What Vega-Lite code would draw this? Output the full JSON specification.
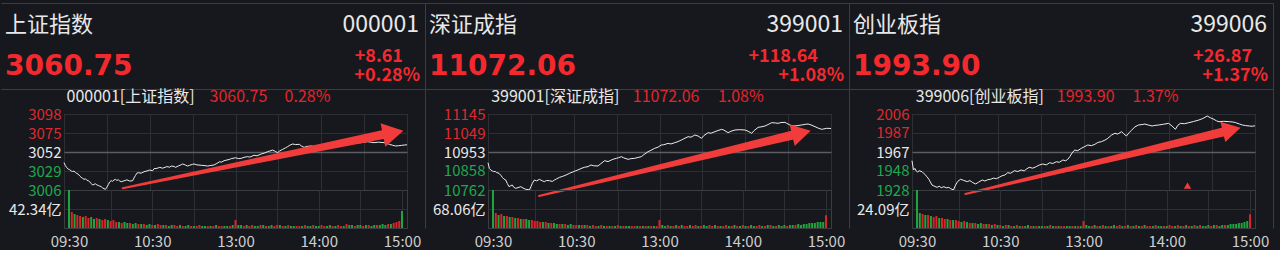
{
"$schema": "https://vega.github.io/schema/vega-lite/v6.json",
"background": "#16181d",
"padding": {"left": 0, "top": 3, "right": 0, "bottom": 0},
"spacing": -64,
"datasets": {
"h1": [{"role":"name","side":"L","line":"top","txt":"上证指数"},{"role":"code","side":"R","line":"top","txt":"000001"},{"role":"value","side":"L","line":"bottom","txt":"3060.75"},{"role":"chg","side":"R","line":"bottom","txt":"+8.61"},{"role":"pct","side":"R","line":"bottom","txt":"+0.28%"}],
"h2": [{"role":"name","side":"L","line":"top","txt":"深证成指"},{"role":"code","side":"R","line":"top","txt":"399001"},{"role":"value","side":"L","line":"bottom","txt":"11072.06"},{"role":"chg","side":"R","line":"bottom","txt":"+118.64"},{"role":"pct","side":"R","line":"bottom","txt":"+1.08%"}],
"h3": [{"role":"name","side":"L","line":"top","txt":"创业板指"},{"role":"code","side":"R","line":"top","txt":"399006"},{"role":"value","side":"L","line":"bottom","txt":"1993.90"},{"role":"chg","side":"R","line":"bottom","txt":"+26.87"},{"role":"pct","side":"R","line":"bottom","txt":"+1.37%"}],
"a1": [{"part":"shaft","t":41,"p":3008},{"part":"shaft","t":223,"p":3073},{"part":"head","t":230.3,"p":3075.1}],
"a2": [{"part":"shaft","t":35.7,"p":10731.7},{"part":"shaft","t":213,"p":11038},{"part":"head","t":219.3,"p":11049.3}],
"a3": [{"part":"shaft","t":37.4,"p":1923.9},{"part":"shaft","t":218,"p":1987.6},{"part":"head","t":223.7,"p":1989.8}],
"m3": [{"t":192.8,"p":1932.5}],
"p1": [{"t":0,"p":3039.1},{"t":1,"p":3035.5},{"t":2,"p":3033},{"t":3,"p":3031.2},{"t":4,"p":3030.6},{"t":5,"p":3029},{"t":6,"p":3028.4},{"t":7,"p":3028.9},{"t":8,"p":3027.2},{"t":9,"p":3026},{"t":10,"p":3025.1},{"t":11,"p":3023},{"t":12,"p":3021.3},{"t":13,"p":3020.2},{"t":14,"p":3018.9},{"t":15,"p":3019.6},{"t":16,"p":3017.8},{"t":17,"p":3017.3},{"t":18,"p":3016},{"t":19,"p":3013.9},{"t":20,"p":3012},{"t":21,"p":3012.8},{"t":22,"p":3013.5},{"t":23,"p":3012.2},{"t":24,"p":3011.4},{"t":25,"p":3010.8},{"t":26,"p":3010},{"t":27,"p":3008.6},{"t":28,"p":3007.6},{"t":29,"p":3006.8},{"t":30,"p":3009.4},{"t":31,"p":3012.5},{"t":32,"p":3015.8},{"t":33,"p":3017.3},{"t":34,"p":3016.5},{"t":35,"p":3018.2},{"t":36,"p":3018.9},{"t":37,"p":3017.6},{"t":38,"p":3018.4},{"t":39,"p":3016.9},{"t":40,"p":3016},{"t":42,"p":3017.1},{"t":44,"p":3018.3},{"t":46,"p":3016.8},{"t":48,"p":3017.2},{"t":49,"p":3020.6},{"t":50,"p":3023.6},{"t":51,"p":3026.4},{"t":52,"p":3027},{"t":54,"p":3026.3},{"t":56,"p":3028.2},{"t":58,"p":3029},{"t":60,"p":3030.2},{"t":62,"p":3029.3},{"t":63,"p":3031.8},{"t":65,"p":3032.2},{"t":67,"p":3033.4},{"t":69,"p":3032.4},{"t":70,"p":3033},{"t":72,"p":3034.3},{"t":74,"p":3033.6},{"t":75,"p":3035},{"t":77,"p":3034.5},{"t":78,"p":3033.4},{"t":80,"p":3035.1},{"t":82,"p":3036.6},{"t":83,"p":3037.5},{"t":85,"p":3036.2},{"t":86.5,"p":3035},{"t":88,"p":3036},{"t":90,"p":3037.1},{"t":91,"p":3037.5},{"t":93,"p":3036.4},{"t":96,"p":3035.9},{"t":98,"p":3035.6},{"t":100.5,"p":3035},{"t":102,"p":3035.5},{"t":105,"p":3036.3},{"t":107,"p":3038.2},{"t":109,"p":3040.3},{"t":110,"p":3039.6},{"t":112,"p":3041.5},{"t":114,"p":3042.3},{"t":116,"p":3043.1},{"t":117,"p":3044},{"t":119,"p":3044.6},{"t":120,"p":3045.1},{"t":122,"p":3044},{"t":124,"p":3044.3},{"t":126,"p":3045.6},{"t":128.5,"p":3046.4},{"t":130,"p":3045.8},{"t":133,"p":3048},{"t":135,"p":3047.4},{"t":138,"p":3049.6},{"t":140,"p":3050.6},{"t":142.5,"p":3052.4},{"t":144,"p":3053.2},{"t":146,"p":3054.4},{"t":148,"p":3052.6},{"t":149.5,"p":3051.2},{"t":151,"p":3053.4},{"t":153,"p":3055.2},{"t":155,"p":3057},{"t":156.5,"p":3058.5},{"t":158,"p":3060.2},{"t":160,"p":3061.7},{"t":162,"p":3061},{"t":164.7,"p":3061.3},{"t":166,"p":3059.4},{"t":168,"p":3057.6},{"t":170,"p":3058.8},{"t":173,"p":3059.3},{"t":176,"p":3058.5},{"t":180,"p":3059.3},{"t":184,"p":3060.4},{"t":189,"p":3060},{"t":194,"p":3061.1},{"t":198.5,"p":3061.7},{"t":203,"p":3062.6},{"t":208,"p":3063.3},{"t":210,"p":3064},{"t":212.5,"p":3064.5},{"t":215,"p":3063.8},{"t":217,"p":3063.3},{"t":220,"p":3063.9},{"t":224,"p":3063.3},{"t":226,"p":3062.4},{"t":227.7,"p":3061.3},{"t":230,"p":3060.1},{"t":232,"p":3059.3},{"t":234,"p":3059.6},{"t":236,"p":3060},{"t":238,"p":3060.4},{"t":240,"p":3060.75}],
"p2": [{"t":0,"p":10899.7},{"t":1,"p":10870},{"t":2,"p":10862.8},{"t":3,"p":10858},{"t":4,"p":10854.4},{"t":5,"p":10856},{"t":6,"p":10850},{"t":7.7,"p":10846},{"t":9,"p":10836},{"t":10,"p":10825.8},{"t":11,"p":10818},{"t":12.4,"p":10812.4},{"t":13.5,"p":10795},{"t":14.7,"p":10778.8},{"t":16,"p":10784},{"t":17,"p":10787.2},{"t":18,"p":10776},{"t":19.4,"p":10770.4},{"t":21,"p":10774},{"t":23,"p":10778.8},{"t":24.5,"p":10772},{"t":26.4,"p":10765.4},{"t":28,"p":10764},{"t":29,"p":10762},{"t":30,"p":10778.8},{"t":31,"p":10795},{"t":32.4,"p":10812.4},{"t":34,"p":10808},{"t":36,"p":10815.7},{"t":38,"p":10808},{"t":39.4,"p":10804},{"t":41,"p":10810},{"t":43,"p":10809},{"t":45,"p":10805},{"t":46.5,"p":10812.4},{"t":48,"p":10818},{"t":50,"p":10825.8},{"t":52,"p":10830},{"t":54.6,"p":10837.6},{"t":57,"p":10846},{"t":59.3,"p":10852.7},{"t":61,"p":10858},{"t":62.8,"p":10862.8},{"t":65,"p":10870},{"t":67.4,"p":10876.2},{"t":70,"p":10880},{"t":72,"p":10888},{"t":74,"p":10884},{"t":77,"p":10883},{"t":79,"p":10895},{"t":81.6,"p":10909.8},{"t":84,"p":10905},{"t":86.3,"p":10913.2},{"t":88,"p":10918},{"t":89.8,"p":10921.6},{"t":91.5,"p":10925},{"t":93.3,"p":10930},{"t":95,"p":10924},{"t":98,"p":10916.5},{"t":100,"p":10920},{"t":102.6,"p":10921.6},{"t":105,"p":10926},{"t":107.3,"p":10930},{"t":109,"p":10940},{"t":112,"p":10955.2},{"t":114,"p":10962},{"t":116.6,"p":10972},{"t":119,"p":10978},{"t":121.3,"p":10988.8},{"t":123,"p":10990},{"t":126,"p":10997},{"t":128,"p":10994},{"t":130.7,"p":11000.5},{"t":133,"p":11006},{"t":135.3,"p":11014},{"t":137,"p":11020},{"t":140,"p":11030.8},{"t":142,"p":11028},{"t":144.7,"p":11039},{"t":147,"p":11034},{"t":149.4,"p":11022.4},{"t":151,"p":11036},{"t":154,"p":11050.9},{"t":156,"p":11048},{"t":158.8,"p":11056},{"t":161,"p":11062},{"t":163.5,"p":11067.7},{"t":165,"p":11064},{"t":168,"p":11050.9},{"t":170,"p":11058},{"t":172.8,"p":11064.4},{"t":176,"p":11066},{"t":179.8,"p":11064.4},{"t":182,"p":11058},{"t":184.5,"p":11047.6},{"t":186,"p":11060},{"t":189,"p":11077.8},{"t":191,"p":11080},{"t":193.8,"p":11084.5},{"t":196,"p":11092},{"t":198.5,"p":11101.3},{"t":201,"p":11100},{"t":203,"p":11098},{"t":205,"p":11102},{"t":207.8,"p":11103},{"t":209,"p":11098},{"t":211.3,"p":11089.6},{"t":213,"p":11086},{"t":214.8,"p":11084.5},{"t":217,"p":11087},{"t":219.5,"p":11089.6},{"t":222,"p":11093},{"t":224,"p":11094.6},{"t":226,"p":11090},{"t":228.8,"p":11081.2},{"t":231,"p":11074},{"t":233.5,"p":11067.7},{"t":235,"p":11070},{"t":237,"p":11072.8},{"t":240,"p":11072.06}],
"p3": [{"t":0,"p":1958.1},{"t":1,"p":1948.5},{"t":2,"p":1950.2},{"t":3,"p":1947.4},{"t":4,"p":1946.5},{"t":5,"p":1947.8},{"t":7,"p":1946.8},{"t":8.5,"p":1944.6},{"t":10.5,"p":1941.7},{"t":12,"p":1938.5},{"t":14,"p":1933.1},{"t":15.5,"p":1932},{"t":17.6,"p":1930.7},{"t":19,"p":1931.9},{"t":20.5,"p":1930.4},{"t":22.3,"p":1931.4},{"t":24,"p":1930.2},{"t":25.8,"p":1930.7},{"t":27,"p":1929.4},{"t":29,"p":1928},{"t":30.5,"p":1933.1},{"t":32,"p":1936.8},{"t":34,"p":1939},{"t":36,"p":1937.9},{"t":38.7,"p":1936.6},{"t":40.5,"p":1937.7},{"t":42.5,"p":1935.6},{"t":44.6,"p":1934.2},{"t":46.5,"p":1936},{"t":49.2,"p":1938.3},{"t":51,"p":1937.2},{"t":53,"p":1938.6},{"t":55,"p":1939},{"t":57,"p":1940.2},{"t":59,"p":1939.6},{"t":61,"p":1941},{"t":63,"p":1942.6},{"t":65,"p":1943.4},{"t":67,"p":1945.8},{"t":69,"p":1945.1},{"t":71.6,"p":1947.8},{"t":74,"p":1947},{"t":76.4,"p":1948.5},{"t":78.5,"p":1947.6},{"t":80,"p":1949.4},{"t":82,"p":1951.3},{"t":84.5,"p":1950.4},{"t":87,"p":1952},{"t":89,"p":1953.6},{"t":91.5,"p":1954.7},{"t":94,"p":1953.8},{"t":96.3,"p":1956},{"t":98.5,"p":1955.2},{"t":101,"p":1957},{"t":103,"p":1956.4},{"t":105.6,"p":1958.8},{"t":107.5,"p":1958},{"t":109,"p":1959.5},{"t":110.5,"p":1962.4},{"t":112,"p":1966},{"t":113.8,"p":1969},{"t":116,"p":1968.4},{"t":118.5,"p":1970.8},{"t":120.5,"p":1972.3},{"t":123,"p":1974.2},{"t":125.5,"p":1973.5},{"t":128,"p":1974.9},{"t":130,"p":1976.8},{"t":132.5,"p":1977.6},{"t":135,"p":1979.2},{"t":137,"p":1981},{"t":139.5,"p":1984.3},{"t":142,"p":1986.2},{"t":144,"p":1985.4},{"t":146.6,"p":1987.9},{"t":148,"p":1986},{"t":150,"p":1983.4},{"t":152,"p":1987},{"t":153.8,"p":1989.6},{"t":156,"p":1992.8},{"t":158.5,"p":1994.7},{"t":161,"p":1995.2},{"t":163,"p":1995.7},{"t":165.5,"p":1994.6},{"t":168,"p":1993.7},{"t":170,"p":1994.3},{"t":172.5,"p":1994.7},{"t":176,"p":1995.5},{"t":179.6,"p":1996.4},{"t":182,"p":1993.6},{"t":184.3,"p":1990.3},{"t":186,"p":1994.4},{"t":187.8,"p":1996.4},{"t":190.5,"p":1996},{"t":193.7,"p":1997.1},{"t":197,"p":1998.3},{"t":200.7,"p":1999.8},{"t":203.5,"p":2001.4},{"t":206.6,"p":2003.9},{"t":209,"p":2002},{"t":211.3,"p":2000.5},{"t":213,"p":1999},{"t":214.8,"p":1998.1},{"t":218,"p":1998.5},{"t":222,"p":1998.1},{"t":224.5,"p":1997.8},{"t":226.5,"p":1997.1},{"t":229,"p":1995.8},{"t":231.2,"p":1994.7},{"t":233.5,"p":1994.1},{"t":236,"p":1993.7},{"t":238,"p":1993.4},{"t":240,"p":1993.9}],
"v1": [{"t":0,"v":84.7,"c":"g"},{"t":2,"v":35.6,"c":"r"},{"t":4,"v":31.2,"c":"g"},{"t":6,"v":29,"c":"r"},{"t":8,"v":26.7,"c":"r"},{"t":10,"v":24.5,"c":"g"},{"t":12,"v":26.7,"c":"r"},{"t":14,"v":22.3,"c":"r"},{"t":16,"v":24.5,"c":"g"},{"t":18,"v":20.1,"c":"g"},{"t":20,"v":22.3,"c":"r"},{"t":22,"v":20.1,"c":"g"},{"t":24,"v":17.8,"c":"r"},{"t":26,"v":20.1,"c":"r"},{"t":28,"v":17.8,"c":"g"},{"t":30,"v":15.6,"c":"r"},{"t":32,"v":17.8,"c":"r"},{"t":34,"v":13.4,"c":"r"},{"t":36,"v":13.4,"c":"g"},{"t":38,"v":11.1,"c":"r"},{"t":40,"v":13.4,"c":"g"},{"t":42,"v":11.1,"c":"g"},{"t":44,"v":11.1,"c":"r"},{"t":46,"v":8.9,"c":"g"},{"t":48,"v":11.1,"c":"g"},{"t":50,"v":8.9,"c":"r"},{"t":52,"v":8.9,"c":"g"},{"t":54,"v":8.9,"c":"r"},{"t":56,"v":6.7,"c":"g"},{"t":58,"v":8.9,"c":"g"},{"t":60,"v":6.7,"c":"r"},{"t":62,"v":6.7,"c":"g"},{"t":64,"v":8.9,"c":"r"},{"t":66,"v":6.7,"c":"r"},{"t":68,"v":6.7,"c":"g"},{"t":70,"v":6.7,"c":"r"},{"t":72,"v":4.5,"c":"g"},{"t":74,"v":6.7,"c":"g"},{"t":76,"v":6.7,"c":"r"},{"t":78,"v":4.5,"c":"r"},{"t":80,"v":6.7,"c":"g"},{"t":82,"v":4.5,"c":"r"},{"t":84,"v":4.5,"c":"g"},{"t":86,"v":6.7,"c":"g"},{"t":88,"v":4.5,"c":"r"},{"t":90,"v":4.5,"c":"g"},{"t":92,"v":4.5,"c":"r"},{"t":94,"v":6.7,"c":"r"},{"t":96,"v":4.5,"c":"g"},{"t":98,"v":4.5,"c":"g"},{"t":100,"v":4.5,"c":"r"},{"t":102,"v":4.5,"c":"g"},{"t":104,"v":4.5,"c":"r"},{"t":106,"v":6.7,"c":"g"},{"t":108,"v":4.5,"c":"r"},{"t":110,"v":4.5,"c":"r"},{"t":112,"v":4.5,"c":"g"},{"t":114,"v":4.5,"c":"g"},{"t":116,"v":4.5,"c":"r"},{"t":118,"v":6.7,"c":"g"},{"t":120,"v":17.8,"c":"r"},{"t":122,"v":6.7,"c":"g"},{"t":124,"v":6.7,"c":"g"},{"t":126,"v":4.5,"c":"r"},{"t":128,"v":6.7,"c":"g"},{"t":130,"v":4.5,"c":"r"},{"t":132,"v":6.7,"c":"r"},{"t":134,"v":4.5,"c":"g"},{"t":136,"v":4.5,"c":"g"},{"t":138,"v":6.7,"c":"r"},{"t":140,"v":6.7,"c":"g"},{"t":142,"v":4.5,"c":"r"},{"t":144,"v":4.5,"c":"g"},{"t":146,"v":6.7,"c":"g"},{"t":148,"v":4.5,"c":"r"},{"t":150,"v":6.7,"c":"r"},{"t":152,"v":6.7,"c":"g"},{"t":154,"v":4.5,"c":"r"},{"t":156,"v":4.5,"c":"g"},{"t":158,"v":6.7,"c":"r"},{"t":160,"v":4.5,"c":"g"},{"t":162,"v":4.5,"c":"g"},{"t":164,"v":4.5,"c":"r"},{"t":166,"v":4.5,"c":"r"},{"t":168,"v":4.5,"c":"g"},{"t":170,"v":6.7,"c":"r"},{"t":172,"v":4.5,"c":"g"},{"t":174,"v":4.5,"c":"g"},{"t":176,"v":6.7,"c":"r"},{"t":178,"v":4.5,"c":"g"},{"t":180,"v":4.5,"c":"g"},{"t":182,"v":6.7,"c":"r"},{"t":184,"v":4.5,"c":"r"},{"t":186,"v":4.5,"c":"g"},{"t":188,"v":6.7,"c":"g"},{"t":190,"v":4.5,"c":"r"},{"t":192,"v":4.5,"c":"g"},{"t":194,"v":6.7,"c":"r"},{"t":196,"v":4.5,"c":"r"},{"t":198,"v":4.5,"c":"g"},{"t":200,"v":8.9,"c":"r"},{"t":202,"v":6.7,"c":"g"},{"t":204,"v":6.7,"c":"g"},{"t":206,"v":4.5,"c":"r"},{"t":208,"v":6.7,"c":"g"},{"t":210,"v":6.7,"c":"g"},{"t":212,"v":4.5,"c":"r"},{"t":214,"v":6.7,"c":"g"},{"t":216,"v":6.7,"c":"r"},{"t":218,"v":4.5,"c":"g"},{"t":220,"v":6.7,"c":"g"},{"t":222,"v":6.7,"c":"r"},{"t":224,"v":6.7,"c":"g"},{"t":226,"v":8.9,"c":"g"},{"t":228,"v":6.7,"c":"g"},{"t":230,"v":8.9,"c":"r"},{"t":232,"v":8.9,"c":"g"},{"t":234,"v":11.1,"c":"r"},{"t":236,"v":13.4,"c":"r"},{"t":238,"v":15.6,"c":"r"},{"t":240,"v":37.9,"c":"g"}],
"v2": [{"t":0,"v":136.1,"c":"g"},{"t":2,"v":53.7,"c":"r"},{"t":4,"v":46.6,"c":"g"},{"t":6,"v":50.1,"c":"r"},{"t":8,"v":43,"c":"g"},{"t":10,"v":43,"c":"r"},{"t":12,"v":39.4,"c":"g"},{"t":14,"v":39.4,"c":"r"},{"t":16,"v":35.8,"c":"g"},{"t":18,"v":35.8,"c":"r"},{"t":20,"v":32.2,"c":"g"},{"t":22,"v":32.2,"c":"r"},{"t":24,"v":32.2,"c":"g"},{"t":26,"v":28.7,"c":"g"},{"t":28,"v":28.7,"c":"r"},{"t":30,"v":25.1,"c":"r"},{"t":32,"v":25.1,"c":"r"},{"t":34,"v":21.5,"c":"r"},{"t":36,"v":21.5,"c":"g"},{"t":38,"v":21.5,"c":"r"},{"t":40,"v":17.9,"c":"g"},{"t":42,"v":17.9,"c":"r"},{"t":44,"v":17.9,"c":"g"},{"t":46,"v":14.3,"c":"g"},{"t":48,"v":14.3,"c":"r"},{"t":50,"v":14.3,"c":"g"},{"t":52,"v":14.3,"c":"r"},{"t":54,"v":10.7,"c":"g"},{"t":56,"v":14.3,"c":"g"},{"t":58,"v":10.7,"c":"r"},{"t":60,"v":10.7,"c":"r"},{"t":62,"v":10.7,"c":"g"},{"t":64,"v":10.7,"c":"r"},{"t":66,"v":10.7,"c":"g"},{"t":68,"v":10.7,"c":"r"},{"t":70,"v":7.2,"c":"g"},{"t":72,"v":10.7,"c":"r"},{"t":74,"v":7.2,"c":"r"},{"t":76,"v":7.2,"c":"g"},{"t":78,"v":10.7,"c":"r"},{"t":80,"v":7.2,"c":"g"},{"t":82,"v":7.2,"c":"r"},{"t":84,"v":7.2,"c":"g"},{"t":86,"v":7.2,"c":"r"},{"t":88,"v":7.2,"c":"g"},{"t":90,"v":10.7,"c":"r"},{"t":92,"v":7.2,"c":"g"},{"t":94,"v":7.2,"c":"r"},{"t":96,"v":7.2,"c":"g"},{"t":98,"v":7.2,"c":"g"},{"t":100,"v":7.2,"c":"r"},{"t":102,"v":7.2,"c":"r"},{"t":104,"v":7.2,"c":"g"},{"t":106,"v":7.2,"c":"r"},{"t":108,"v":7.2,"c":"g"},{"t":110,"v":7.2,"c":"r"},{"t":112,"v":7.2,"c":"g"},{"t":114,"v":7.2,"c":"r"},{"t":116,"v":7.2,"c":"g"},{"t":118,"v":7.2,"c":"r"},{"t":120,"v":28.7,"c":"r"},{"t":122,"v":10.7,"c":"g"},{"t":124,"v":7.2,"c":"g"},{"t":126,"v":10.7,"c":"r"},{"t":128,"v":7.2,"c":"g"},{"t":130,"v":7.2,"c":"r"},{"t":132,"v":10.7,"c":"g"},{"t":134,"v":7.2,"c":"r"},{"t":136,"v":10.7,"c":"g"},{"t":138,"v":7.2,"c":"r"},{"t":140,"v":7.2,"c":"r"},{"t":142,"v":10.7,"c":"g"},{"t":144,"v":7.2,"c":"r"},{"t":146,"v":10.7,"c":"r"},{"t":148,"v":7.2,"c":"g"},{"t":150,"v":7.2,"c":"r"},{"t":152,"v":10.7,"c":"g"},{"t":154,"v":7.2,"c":"g"},{"t":156,"v":10.7,"c":"r"},{"t":158,"v":7.2,"c":"r"},{"t":160,"v":10.7,"c":"g"},{"t":162,"v":7.2,"c":"r"},{"t":164,"v":7.2,"c":"g"},{"t":166,"v":7.2,"c":"r"},{"t":168,"v":10.7,"c":"r"},{"t":170,"v":7.2,"c":"g"},{"t":172,"v":7.2,"c":"r"},{"t":174,"v":10.7,"c":"g"},{"t":176,"v":7.2,"c":"r"},{"t":178,"v":7.2,"c":"g"},{"t":180,"v":10.7,"c":"r"},{"t":182,"v":7.2,"c":"g"},{"t":184,"v":7.2,"c":"r"},{"t":186,"v":10.7,"c":"g"},{"t":188,"v":7.2,"c":"g"},{"t":190,"v":7.2,"c":"r"},{"t":192,"v":10.7,"c":"r"},{"t":194,"v":7.2,"c":"g"},{"t":196,"v":7.2,"c":"r"},{"t":198,"v":10.7,"c":"g"},{"t":200,"v":10.7,"c":"r"},{"t":202,"v":7.2,"c":"g"},{"t":204,"v":7.2,"c":"r"},{"t":206,"v":10.7,"c":"g"},{"t":208,"v":7.2,"c":"g"},{"t":210,"v":10.7,"c":"g"},{"t":212,"v":7.2,"c":"r"},{"t":214,"v":10.7,"c":"g"},{"t":216,"v":10.7,"c":"g"},{"t":218,"v":10.7,"c":"r"},{"t":220,"v":14.3,"c":"g"},{"t":222,"v":10.7,"c":"g"},{"t":224,"v":14.3,"c":"g"},{"t":226,"v":14.3,"c":"g"},{"t":228,"v":17.9,"c":"g"},{"t":230,"v":17.9,"c":"g"},{"t":232,"v":17.9,"c":"g"},{"t":234,"v":21.5,"c":"g"},{"t":236,"v":21.5,"c":"g"},{"t":238,"v":21.5,"c":"g"},{"t":240,"v":45.5,"c":"r"}],
"v3": [{"t":0,"v":48.2,"c":"g"},{"t":2,"v":19,"c":"g"},{"t":4,"v":17.8,"c":"r"},{"t":6,"v":16.5,"c":"g"},{"t":8,"v":16.5,"c":"r"},{"t":10,"v":15.2,"c":"g"},{"t":12,"v":13.9,"c":"r"},{"t":14,"v":15.2,"c":"r"},{"t":16,"v":12.7,"c":"g"},{"t":18,"v":12.7,"c":"r"},{"t":20,"v":11.4,"c":"r"},{"t":22,"v":11.4,"c":"g"},{"t":24,"v":10.1,"c":"r"},{"t":26,"v":10.1,"c":"g"},{"t":28,"v":10.1,"c":"r"},{"t":30,"v":8.9,"c":"r"},{"t":32,"v":7.6,"c":"g"},{"t":34,"v":8.9,"c":"r"},{"t":36,"v":7.6,"c":"g"},{"t":38,"v":6.3,"c":"r"},{"t":40,"v":6.3,"c":"g"},{"t":42,"v":6.3,"c":"r"},{"t":44,"v":5.1,"c":"g"},{"t":46,"v":6.3,"c":"g"},{"t":48,"v":5.1,"c":"r"},{"t":50,"v":5.1,"c":"g"},{"t":52,"v":5.1,"c":"r"},{"t":54,"v":3.8,"c":"g"},{"t":56,"v":5.1,"c":"r"},{"t":58,"v":3.8,"c":"g"},{"t":60,"v":3.8,"c":"r"},{"t":62,"v":2.5,"c":"g"},{"t":64,"v":3.8,"c":"r"},{"t":66,"v":3.8,"c":"g"},{"t":68,"v":2.5,"c":"r"},{"t":70,"v":2.5,"c":"g"},{"t":72,"v":3.8,"c":"r"},{"t":74,"v":2.5,"c":"g"},{"t":76,"v":2.5,"c":"r"},{"t":78,"v":2.5,"c":"g"},{"t":80,"v":3.8,"c":"g"},{"t":82,"v":2.5,"c":"r"},{"t":84,"v":2.5,"c":"g"},{"t":86,"v":2.5,"c":"r"},{"t":88,"v":2.5,"c":"g"},{"t":90,"v":2.5,"c":"g"},{"t":92,"v":2.5,"c":"r"},{"t":94,"v":2.5,"c":"g"},{"t":96,"v":3.8,"c":"r"},{"t":98,"v":2.5,"c":"g"},{"t":100,"v":2.5,"c":"r"},{"t":102,"v":2.5,"c":"g"},{"t":104,"v":2.5,"c":"r"},{"t":106,"v":2.5,"c":"r"},{"t":108,"v":2.5,"c":"g"},{"t":110,"v":2.5,"c":"g"},{"t":112,"v":2.5,"c":"r"},{"t":114,"v":2.5,"c":"g"},{"t":116,"v":2.5,"c":"r"},{"t":118,"v":2.5,"c":"g"},{"t":120,"v":8.9,"c":"r"},{"t":122,"v":3.8,"c":"g"},{"t":124,"v":2.5,"c":"g"},{"t":126,"v":2.5,"c":"r"},{"t":128,"v":3.8,"c":"g"},{"t":130,"v":2.5,"c":"r"},{"t":132,"v":2.5,"c":"g"},{"t":134,"v":3.8,"c":"r"},{"t":136,"v":2.5,"c":"g"},{"t":138,"v":2.5,"c":"r"},{"t":140,"v":2.5,"c":"g"},{"t":142,"v":3.8,"c":"g"},{"t":144,"v":2.5,"c":"r"},{"t":146,"v":3.8,"c":"r"},{"t":148,"v":2.5,"c":"g"},{"t":150,"v":2.5,"c":"r"},{"t":152,"v":3.8,"c":"g"},{"t":154,"v":2.5,"c":"r"},{"t":156,"v":2.5,"c":"g"},{"t":158,"v":3.8,"c":"r"},{"t":160,"v":2.5,"c":"g"},{"t":162,"v":2.5,"c":"r"},{"t":164,"v":3.8,"c":"g"},{"t":166,"v":2.5,"c":"r"},{"t":168,"v":2.5,"c":"r"},{"t":170,"v":2.5,"c":"g"},{"t":172,"v":3.8,"c":"r"},{"t":174,"v":2.5,"c":"g"},{"t":176,"v":2.5,"c":"g"},{"t":178,"v":2.5,"c":"r"},{"t":180,"v":2.5,"c":"g"},{"t":182,"v":3.8,"c":"r"},{"t":184,"v":2.5,"c":"r"},{"t":186,"v":2.5,"c":"g"},{"t":188,"v":3.8,"c":"r"},{"t":190,"v":2.5,"c":"g"},{"t":192,"v":2.5,"c":"r"},{"t":194,"v":3.8,"c":"g"},{"t":196,"v":2.5,"c":"r"},{"t":198,"v":2.5,"c":"g"},{"t":200,"v":3.8,"c":"r"},{"t":202,"v":2.5,"c":"g"},{"t":204,"v":3.8,"c":"r"},{"t":206,"v":2.5,"c":"g"},{"t":208,"v":2.5,"c":"g"},{"t":210,"v":3.8,"c":"g"},{"t":212,"v":2.5,"c":"r"},{"t":214,"v":3.8,"c":"g"},{"t":216,"v":3.8,"c":"r"},{"t":218,"v":2.5,"c":"g"},{"t":220,"v":3.8,"c":"g"},{"t":222,"v":3.8,"c":"r"},{"t":224,"v":3.8,"c":"g"},{"t":226,"v":5.1,"c":"g"},{"t":228,"v":5.1,"c":"g"},{"t":230,"v":5.1,"c":"g"},{"t":232,"v":6.3,"c":"g"},{"t":234,"v":6.3,"c":"g"},{"t":236,"v":7.6,"c":"g"},{"t":238,"v":8.9,"c":"g"},{"t":240,"v":17.4,"c":"r"}]
},
"hconcat": [
{
"spacing": 0,
"bounds": "flush",
"vconcat": [
{
"width": 343, "height": 111,
"view": {"stroke": null},
"data": {"name": "h1"},
"encoding": {
"x": {"field": "side", "type": "nominal", "scale": {"type": "point", "domain": ["L","R"], "range": [-63,361], "padding": 0}, "axis": {"orient": "bottom", "offset": -25, "domain": true, "domainColor": "#3a3d42", "labels": false, "ticks": false, "grid": false, "title": null, "minExtent": 0, "maxExtent": 0}},
"y": {"field": "line", "type": "nominal", "scale": {"type": "point", "domain": ["top","bottom"], "padding": 0.806, "align": 0.321}, "axis": {"orient": "right", "offset": 18, "domain": true, "domainColor": "#3a3d42", "labels": false, "ticks": false, "grid": false, "title": null, "minExtent": 0, "maxExtent": 0}},
"text": {"field": "txt"}
},
"layer": [
{"transform": [{"filter": "datum.role === 'name'"}], "mark": {"type": "text", "align": "left", "baseline": "middle", "dx": 4, "fontSize": 22, "color": "#e8e8e8"},
"encoding": {"x": {"field": "side", "type": "nominal", "axis": {"orient": "top", "domain": true, "domainColor": "#3a3d42", "labels": false, "ticks": false, "grid": false, "title": null, "minExtent": 0, "maxExtent": 0}}}},
{"transform": [{"filter": "datum.role === 'code'"}], "mark": {"type": "text", "align": "right", "baseline": "middle", "dx": -6, "fontSize": 23, "color": "#e8e8e8"}},
{"transform": [{"filter": "datum.role === 'value'"}], "mark": {"type": "text", "align": "left", "baseline": "middle", "dx": 4, "font": "DejaVu Sans", "fontWeight": "bold", "fontSize": 28, "color": "#f5282e"}},
{"transform": [{"filter": "datum.role === 'chg'"}], "mark": {"type": "text", "align": "right", "baseline": "middle", "dx": -22, "dy": -10, "fontWeight": "bold", "fontSize": 18, "color": "#f5282e"}},
{"transform": [{"filter": "datum.role === 'pct'"}], "mark": {"type": "text", "align": "right", "baseline": "middle", "dx": -5, "dy": 9, "fontWeight": "bold", "fontSize": 18, "color": "#f5282e"}}
],
"resolve": {"axis": {"x": "independent"}}
},
{
"spacing": 0,
"bounds": "flush",
"vconcat": [
{
"width": 343, "height": 76,
"layer": [
{"data": {"name": "p1"}, "mark": {"type": "line", "color": "#ececec", "strokeWidth": 1},
"encoding": {
"x": {"field": "t", "type": "quantitative", "scale": {"domain": [0,240], "nice": false, "zero": false}, "axis": {"orient": "bottom", "values": [0,30,60,90,120,150,180,210,240], "tickCount": 20, "labels": false, "ticks": false, "domain": false, "grid": true, "title": null}},
"y": {"field": "p", "type": "quantitative", "scale": {"domain": [3006,3098], "nice": false, "zero": false}, "axis": {"values": [3006,3029,3052,3075,3098], "tickCount": 10, "format": "d", "labelOverlap": false, "minExtent": 63, "title": null, "ticks": false, "domain": false, "grid": true, "labelPadding": 3, "labelColor": {"condition": [{"test": "datum.value > 3060", "value": "#dd2a30"}, {"test": "datum.value < 3045", "value": "#1ea84e"}], "value": "#e8e8e8"}, "gridColor": {"condition": {"test": "datum.value == 3052", "value": "#5c5e63"}, "value": "#2c2f34"}, "gridWidth": {"condition": {"test": "datum.value == 3052", "value": 1.5}, "value": 1}}}
}},
{"data": {"name": "a1"}, "transform": [{"filter": "datum.part === 'shaft'"}], "mark": {"type": "trail", "color": "#f23c3c"},
"encoding": {
"x": {"field": "t", "type": "quantitative", "axis": {"orient": "top", "values": [1.4,101.5,154], "tickCount": 10, "labelExpr": "datum.value < 50 ? '000001[上证指数]' : datum.value < 130 ? '3060.75' : '0.28%'", "labelAlign": "left", "labelFontSize": 16, "labelPadding": 10, "labelFlush": false, "labelOverlap": false, "labelBound": false, "grid": false, "ticks": false, "domain": false, "title": null, "labelColor": {"condition": {"test": "datum.value < 50", "value": "#e8e8e8"}, "value": "#e0262c"}}},
"y": {"field": "p", "type": "quantitative", "axis": {"orient": "right", "offset": 18, "domain": true, "domainColor": "#3a3d42", "labels": false, "ticks": false, "grid": false, "title": null, "minExtent": 0, "maxExtent": 0}},
"size": {"field": "t", "type": "quantitative", "scale": {"domain": [41,223], "range": [2,9]}, "legend": null}
}},
{"data": {"name": "a1"}, "transform": [{"filter": "datum.part === 'head'"}], "mark": {"type": "point", "shape": "triangle-right", "filled": true, "opacity": 1, "size": 576, "angle": -11.5, "color": "#f23c3c"},
"encoding": {
"x": {"field": "t", "type": "quantitative", "axis": null},
"y": {"field": "p", "type": "quantitative", "axis": null}
}}
],
"resolve": {"axis": {"x": "independent", "y": "independent"}, "scale": {"size": "independent"}}
},
{
"width": 343, "height": 38,
"data": {"name": "v1"},
"encoding": {
"x": {"field": "t", "type": "quantitative", "scale": {"domain": [0,240], "nice": false, "zero": false}, "axis": {"values": [0,30,60,90,120,150,180,210,240], "tickCount": 20, "labelExpr": "datum.value == 0 ? '09:30' : datum.value == 60 ? '10:30' : datum.value == 120 ? '13:00' : datum.value == 180 ? '14:00' : datum.value == 240 ? '15:00' : ''", "grid": true, "ticks": false, "domain": false, "labelFlush": false, "labelOverlap": false, "labelPadding": 6, "title": null}},
"color": {"field": "c", "type": "nominal", "scale": {"domain": ["r","g"], "range": ["#dc2328","#1ea63c"]}, "legend": null}
},
"layer": [
{"mark": {"type": "bar", "size": 2},
"encoding": {"y": {"field": "v", "type": "quantitative", "scale": {"domain": [0,84.68], "nice": false}, "axis": {"values": [42.34], "labelExpr": "'42.34亿'", "minExtent": 63, "grid": true, "ticks": false, "domain": false, "title": null, "labelColor": "#e8e8e8", "labelPadding": 3}}}},
{"mark": {"type": "bar", "size": 2, "opacity": 0},
"encoding": {"y": {"field": "v", "type": "quantitative", "axis": {"orient": "right", "offset": 18, "domain": true, "domainColor": "#3a3d42", "labels": false, "ticks": false, "grid": false, "title": null, "minExtent": 0, "maxExtent": 0}}}}
],
"resolve": {"axis": {"y": "independent"}}
}
]
}
]
},
{
"spacing": 0,
"bounds": "flush",
"vconcat": [
{
"width": 343, "height": 111,
"view": {"stroke": null},
"data": {"name": "h2"},
"encoding": {
"x": {"field": "side", "type": "nominal", "scale": {"type": "point", "domain": ["L","R"], "range": [-63,361], "padding": 0}, "axis": {"orient": "bottom", "offset": -25, "domain": true, "domainColor": "#3a3d42", "labels": false, "ticks": false, "grid": false, "title": null, "minExtent": 0, "maxExtent": 0}},
"y": {"field": "line", "type": "nominal", "scale": {"type": "point", "domain": ["top","bottom"], "padding": 0.806, "align": 0.321}, "axis": {"orient": "right", "offset": 18, "domain": true, "domainColor": "#3a3d42", "labels": false, "ticks": false, "grid": false, "title": null, "minExtent": 0, "maxExtent": 0}},
"text": {"field": "txt"}
},
"layer": [
{"transform": [{"filter": "datum.role === 'name'"}], "mark": {"type": "text", "align": "left", "baseline": "middle", "dx": 4, "fontSize": 22, "color": "#e8e8e8"},
"encoding": {"x": {"field": "side", "type": "nominal", "axis": {"orient": "top", "domain": true, "domainColor": "#3a3d42", "labels": false, "ticks": false, "grid": false, "title": null, "minExtent": 0, "maxExtent": 0}}}},
{"transform": [{"filter": "datum.role === 'code'"}], "mark": {"type": "text", "align": "right", "baseline": "middle", "dx": -6, "fontSize": 23, "color": "#e8e8e8"}},
{"transform": [{"filter": "datum.role === 'value'"}], "mark": {"type": "text", "align": "left", "baseline": "middle", "dx": 4, "font": "DejaVu Sans", "fontWeight": "bold", "fontSize": 28, "color": "#f5282e"}},
{"transform": [{"filter": "datum.role === 'chg'"}], "mark": {"type": "text", "align": "right", "baseline": "middle", "dx": -31, "dy": -10, "fontWeight": "bold", "fontSize": 18, "color": "#f5282e"}},
{"transform": [{"filter": "datum.role === 'pct'"}], "mark": {"type": "text", "align": "right", "baseline": "middle", "dx": -5, "dy": 9, "fontWeight": "bold", "fontSize": 18, "color": "#f5282e"}}
],
"resolve": {"axis": {"x": "independent"}}
},
{
"spacing": 0,
"bounds": "flush",
"vconcat": [
{
"width": 343, "height": 76,
"layer": [
{"data": {"name": "p2"}, "mark": {"type": "line", "color": "#ececec", "strokeWidth": 1},
"encoding": {
"x": {"field": "t", "type": "quantitative", "scale": {"domain": [0,240], "nice": false, "zero": false}, "axis": {"orient": "bottom", "values": [0,30,60,90,120,150,180,210,240], "tickCount": 20, "labels": false, "ticks": false, "domain": false, "grid": true, "title": null}},
"y": {"field": "p", "type": "quantitative", "scale": {"domain": [10762,11145], "nice": false, "zero": false}, "axis": {"values": [10762,10858,10953,11049,11145], "tickCount": 10, "format": "d", "labelOverlap": false, "minExtent": 63, "title": null, "ticks": false, "domain": false, "grid": true, "labelPadding": 3, "labelColor": {"condition": [{"test": "datum.value > 11000", "value": "#dd2a30"}, {"test": "datum.value < 10900", "value": "#1ea84e"}], "value": "#e8e8e8"}, "gridColor": {"condition": {"test": "datum.value == 10953", "value": "#5c5e63"}, "value": "#2c2f34"}, "gridWidth": {"condition": {"test": "datum.value == 10953", "value": 1.5}, "value": 1}}}
}},
{"data": {"name": "a2"}, "transform": [{"filter": "datum.part === 'shaft'"}], "mark": {"type": "trail", "color": "#f23c3c"},
"encoding": {
"x": {"field": "t", "type": "quantitative", "axis": {"orient": "top", "values": [1.9,101,160.5], "tickCount": 10, "labelExpr": "datum.value < 50 ? '399001[深证成指]' : datum.value < 130 ? '11072.06' : '1.08%'", "labelAlign": "left", "labelFontSize": 16, "labelPadding": 10, "labelFlush": false, "labelOverlap": false, "labelBound": false, "grid": false, "ticks": false, "domain": false, "title": null, "labelColor": {"condition": {"test": "datum.value < 50", "value": "#e8e8e8"}, "value": "#e0262c"}}},
"y": {"field": "p", "type": "quantitative", "axis": {"orient": "right", "offset": 18, "domain": true, "domainColor": "#3a3d42", "labels": false, "ticks": false, "grid": false, "title": null, "minExtent": 0, "maxExtent": 0}},
"size": {"field": "t", "type": "quantitative", "scale": {"domain": [35.7,213], "range": [2,9]}, "legend": null}
}},
{"data": {"name": "a2"}, "transform": [{"filter": "datum.part === 'head'"}], "mark": {"type": "point", "shape": "triangle-right", "filled": true, "opacity": 1, "size": 484, "angle": -13.5, "color": "#f23c3c"},
"encoding": {
"x": {"field": "t", "type": "quantitative", "axis": null},
"y": {"field": "p", "type": "quantitative", "axis": null}
}}
],
"resolve": {"axis": {"x": "independent", "y": "independent"}, "scale": {"size": "independent"}}
},
{
"width": 343, "height": 38,
"data": {"name": "v2"},
"encoding": {
"x": {"field": "t", "type": "quantitative", "scale": {"domain": [0,240], "nice": false, "zero": false}, "axis": {"values": [0,30,60,90,120,150,180,210,240], "tickCount": 20, "labelExpr": "datum.value == 0 ? '09:30' : datum.value == 60 ? '10:30' : datum.value == 120 ? '13:00' : datum.value == 180 ? '14:00' : datum.value == 240 ? '15:00' : ''", "grid": true, "ticks": false, "domain": false, "labelFlush": false, "labelOverlap": false, "labelPadding": 6, "title": null}},
"color": {"field": "c", "type": "nominal", "scale": {"domain": ["r","g"], "range": ["#dc2328","#1ea63c"]}, "legend": null}
},
"layer": [
{"mark": {"type": "bar", "size": 2},
"encoding": {"y": {"field": "v", "type": "quantitative", "scale": {"domain": [0,136.12], "nice": false}, "axis": {"values": [68.06], "labelExpr": "'68.06亿'", "minExtent": 63, "grid": true, "ticks": false, "domain": false, "title": null, "labelColor": "#e8e8e8", "labelPadding": 3}}}},
{"mark": {"type": "bar", "size": 2, "opacity": 0},
"encoding": {"y": {"field": "v", "type": "quantitative", "axis": {"orient": "right", "offset": 18, "domain": true, "domainColor": "#3a3d42", "labels": false, "ticks": false, "grid": false, "title": null, "minExtent": 0, "maxExtent": 0}}}}
],
"resolve": {"axis": {"y": "independent"}}
}
]
}
]
},
{
"spacing": 0,
"bounds": "flush",
"vconcat": [
{
"width": 343, "height": 111,
"view": {"stroke": null},
"data": {"name": "h3"},
"encoding": {
"x": {"field": "side", "type": "nominal", "scale": {"type": "point", "domain": ["L","R"], "range": [-63,361], "padding": 0}, "axis": {"orient": "bottom", "offset": -25, "domain": true, "domainColor": "#3a3d42", "labels": false, "ticks": false, "grid": false, "title": null, "minExtent": 0, "maxExtent": 0}},
"y": {"field": "line", "type": "nominal", "scale": {"type": "point", "domain": ["top","bottom"], "padding": 0.806, "align": 0.321}, "axis": {"orient": "right", "offset": 18, "domain": true, "domainColor": "#3a3d42", "labels": false, "ticks": false, "grid": false, "title": null, "minExtent": 0, "maxExtent": 0}},
"text": {"field": "txt"}
},
"layer": [
{"transform": [{"filter": "datum.role === 'name'"}], "mark": {"type": "text", "align": "left", "baseline": "middle", "dx": 4, "fontSize": 22, "color": "#e8e8e8"},
"encoding": {"x": {"field": "side", "type": "nominal", "axis": {"orient": "top", "domain": true, "domainColor": "#3a3d42", "labels": false, "ticks": false, "grid": false, "title": null, "minExtent": 0, "maxExtent": 0}}}},
{"transform": [{"filter": "datum.role === 'code'"}], "mark": {"type": "text", "align": "right", "baseline": "middle", "dx": -6, "fontSize": 23, "color": "#e8e8e8"}},
{"transform": [{"filter": "datum.role === 'value'"}], "mark": {"type": "text", "align": "left", "baseline": "middle", "dx": 4, "font": "DejaVu Sans", "fontWeight": "bold", "fontSize": 28, "color": "#f5282e"}},
{"transform": [{"filter": "datum.role === 'chg'"}], "mark": {"type": "text", "align": "right", "baseline": "middle", "dx": -21, "dy": -10, "fontWeight": "bold", "fontSize": 18, "color": "#f5282e"}},
{"transform": [{"filter": "datum.role === 'pct'"}], "mark": {"type": "text", "align": "right", "baseline": "middle", "dx": -5, "dy": 9, "fontWeight": "bold", "fontSize": 18, "color": "#f5282e"}}
],
"resolve": {"axis": {"x": "independent"}}
},
{
"spacing": 0,
"bounds": "flush",
"vconcat": [
{
"width": 343, "height": 76,
"layer": [
{"data": {"name": "p3"}, "mark": {"type": "line", "color": "#ececec", "strokeWidth": 1},
"encoding": {
"x": {"field": "t", "type": "quantitative", "scale": {"domain": [0,240], "nice": false, "zero": false}, "axis": {"orient": "bottom", "values": [0,30,60,90,120,150,180,210,240], "tickCount": 20, "labels": false, "ticks": false, "domain": false, "grid": true, "title": null}},
"y": {"field": "p", "type": "quantitative", "scale": {"domain": [1928,2006], "nice": false, "zero": false}, "axis": {"values": [1928,1948,1967,1987,2006], "tickCount": 10, "format": "d", "labelOverlap": false, "minExtent": 63, "title": null, "ticks": false, "domain": false, "grid": true, "labelPadding": 3, "labelColor": {"condition": [{"test": "datum.value > 1975", "value": "#dd2a30"}, {"test": "datum.value < 1960", "value": "#1ea84e"}], "value": "#e8e8e8"}, "gridColor": {"condition": {"test": "datum.value == 1967", "value": "#5c5e63"}, "value": "#2c2f34"}, "gridWidth": {"condition": {"test": "datum.value == 1967", "value": 1.5}, "value": 1}}}
}},
{"data": {"name": "a3"}, "transform": [{"filter": "datum.part === 'shaft'"}], "mark": {"type": "trail", "color": "#f23c3c"},
"encoding": {
"x": {"field": "t", "type": "quantitative", "axis": {"orient": "top", "values": [2.3,101,154], "tickCount": 10, "labelExpr": "datum.value < 50 ? '399006[创业板指]' : datum.value < 130 ? '1993.90' : '1.37%'", "labelAlign": "left", "labelFontSize": 16, "labelPadding": 10, "labelFlush": false, "labelOverlap": false, "labelBound": false, "grid": false, "ticks": false, "domain": false, "title": null, "labelColor": {"condition": {"test": "datum.value < 50", "value": "#e8e8e8"}, "value": "#e0262c"}}},
"y": {"field": "p", "type": "quantitative", "axis": {"orient": "right", "offset": 18, "domain": true, "domainColor": "#3a3d42", "labels": false, "ticks": false, "grid": false, "title": null, "minExtent": 0, "maxExtent": 0}},
"size": {"field": "t", "type": "quantitative", "scale": {"domain": [37.4,218], "range": [2,9]}, "legend": null}
}},
{"data": {"name": "a3"}, "transform": [{"filter": "datum.part === 'head'"}], "mark": {"type": "point", "shape": "triangle-right", "filled": true, "opacity": 1, "size": 441, "angle": -13.5, "color": "#f23c3c"},
"encoding": {
"x": {"field": "t", "type": "quantitative", "axis": null},
"y": {"field": "p", "type": "quantitative", "axis": null}
}},
{"data": {"name": "m3"}, "mark": {"type": "point", "shape": "triangle-up", "filled": true, "size": 55, "color": "#f23c3c", "opacity": 1},
"encoding": {
"x": {"field": "t", "type": "quantitative", "axis": null},
"y": {"field": "p", "type": "quantitative", "axis": null}
}}
],
"resolve": {"axis": {"x": "independent", "y": "independent"}, "scale": {"size": "independent"}}
},
{
"width": 343, "height": 38,
"data": {"name": "v3"},
"encoding": {
"x": {"field": "t", "type": "quantitative", "scale": {"domain": [0,240], "nice": false, "zero": false}, "axis": {"values": [0,30,60,90,120,150,180,210,240], "tickCount": 20, "labelExpr": "datum.value == 0 ? '09:30' : datum.value == 60 ? '10:30' : datum.value == 120 ? '13:00' : datum.value == 180 ? '14:00' : datum.value == 240 ? '15:00' : ''", "grid": true, "ticks": false, "domain": false, "labelFlush": false, "labelOverlap": false, "labelPadding": 6, "title": null}},
"color": {"field": "c", "type": "nominal", "scale": {"domain": ["r","g"], "range": ["#dc2328","#1ea63c"]}, "legend": null}
},
"layer": [
{"mark": {"type": "bar", "size": 2},
"encoding": {"y": {"field": "v", "type": "quantitative", "scale": {"domain": [0,48.18], "nice": false}, "axis": {"values": [24.09], "labelExpr": "'24.09亿'", "minExtent": 63, "grid": true, "ticks": false, "domain": false, "title": null, "labelColor": "#e8e8e8", "labelPadding": 3}}}},
{"mark": {"type": "bar", "size": 2, "opacity": 0},
"encoding": {"y": {"field": "v", "type": "quantitative", "axis": {"orient": "right", "offset": 18, "domain": true, "domainColor": "#3a3d42", "labels": false, "ticks": false, "grid": false, "title": null, "minExtent": 0, "maxExtent": 0}}}}
],
"resolve": {"axis": {"y": "independent"}}
}
]
}
]
}
],
"config": {
"font": "Noto Sans CJK SC",
"view": {"stroke": "#3a3d42"},
"axis": {"labelFont": "Noto Sans CJK SC", "labelFontSize": 15, "labelColor": "#cfcfcf", "gridColor": "#2c2f34", "gridOpacity": 1},
"text": {"font": "Noto Sans CJK SC"}
}
}
